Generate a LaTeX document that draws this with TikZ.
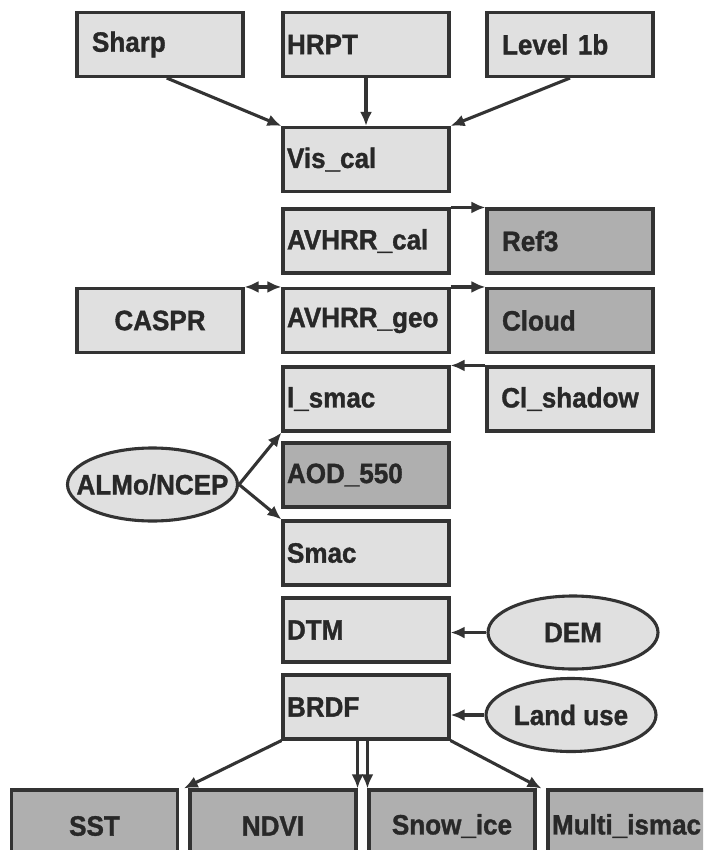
\documentclass[tikz,border=0pt]{standalone}
\usepackage{fontspec}
\setmainfont[FakeStretch=0.93,BoldFeatures={FakeBold=1.2}]{Liberation Sans}
\usetikzlibrary{arrows.meta,shapes.geometric,calc}
\definecolor{lightbox}{HTML}{E0E0E0}
\definecolor{darkbox}{HTML}{AFAFAF}
\definecolor{ink}{HTML}{333333}
\definecolor{txt}{HTML}{282828}
\tikzset{
  base/.style={draw=ink, line width=3.1pt, text=txt,
    font=\fontsize{28}{32}\selectfont\bfseries},
  lbl/.style={text=txt, font=\fontsize{28}{32}\selectfont\bfseries, inner sep=0pt},
  lbox/.style={base, rectangle, fill=lightbox, minimum height=64pt,
    inner xsep=4pt, inner ysep=0pt, text width=158pt, align=left},
  ibox/.style={lbox, inner xsep=15pt, text width=136pt},
  cbox/.style={lbox, align=center},
  dark/.style={fill=darkbox},
  oval/.style={base, ellipse, fill=lightbox, minimum width=170pt,
    minimum height=73pt, inner sep=0pt},
  arr/.style={draw=ink, line width=3.1pt, -{Latex[length=14pt,width=12pt]}},
  darr/.style={draw=ink, line width=3.1pt, {Latex[length=14pt,width=12pt]}-{Latex[length=14pt,width=12pt]}}
}
\begin{document}
\begin{tikzpicture}[x=1pt,y=-1pt]
\useasboundingbox (0,0) rectangle (703,850);
\clip (0,0) rectangle (703,850);
% top row
\node[ibox] (sharp) at (160,44.5) {Sharp};
\node[lbox] (hrpt) at (366,44.5) {HRPT};
\node[ibox] (lvl) at (570,44.5) {Level 1b};
\node[lbox] (vis) at (366,159.5) {\raisebox{-5pt}{Vis\_cal}};
% calibration rows
\node[lbox] (avcal) at (366,241) {AVHRR\_cal};
\node[ibox,dark] (ref) at (570,241) {Ref3};
\node[cbox] (caspr) at (160,320.5) {CASPR};
\node[lbox] (avgeo) at (366,320.5) {AVHRR\_geo};
\node[ibox,dark] (cloud) at (570,320.5) {Cloud};
\node[lbox] (ismac) at (366,399) {l\_smac};
\node[cbox] (shadow) at (570,399) {Cl\_shadow};
\node[lbox,dark] (aod) at (366,475) {AOD\_550};
\node[oval, label={[lbl]center:ALMo/NCEP}] (almo) at (152.5,484.5) {};
\node[lbox] (smac) at (366,553) {Smac};
\node[lbox] (dtm) at (366,630) {DTM};
\node[oval, label={[lbl]center:DEM}] (dem) at (573,632.5) {};
\node[lbox] (brdf) at (366,707) {BRDF};
\node[oval, label={[lbl]center:Land use}] (land) at (571,715) {};
% bottom row
\node[cbox,dark,minimum height=72pt] (sst) at (94.5,826) {SST};
\node[cbox,dark,minimum height=72pt] (ndvi) at (273,826) {NDVI};
\node[cbox,dark,minimum height=72pt] (snow) at (452,826) {Snow\_ice};
\node[lbox,dark,minimum height=72pt] (multi) at (631,826) {Multi\_ismac};
% connectors
\draw[arr] ($(sharp.south west)!0.54!(sharp.south east)$) -- (vis.north west);
\draw[arr] (hrpt.south) -- (vis.north);
\draw[arr] (lvl.south) -- (vis.north east);
\draw[arr] (avcal.north east) -- (ref.north west);
\draw[darr] (caspr.north east) -- (avgeo.north west);
\draw[arr] (avgeo.north east) -- (cloud.north west);
\draw[arr] (shadow.north west) -- (ismac.north east);
\draw[arr] (almo.east) -- (ismac.south west);
\draw[arr] (almo.east) -- (smac.north west);
\draw[arr] (dem.west) -- (dtm.east |- dem.west);
\draw[arr] (land.west) -- (brdf.east |- land.west);
\coordinate (g1) at ($(sst.north east)!0.5!(ndvi.north west)$);
\coordinate (g3) at ($(snow.north east)!0.5!(multi.north west)$);
\draw[arr] (brdf.south west) -- (g1);
\draw[arr] (brdf.south -| ndvi.north east) -- (ndvi.north east);
\draw[arr] (brdf.south -| snow.north west) -- (snow.north west);
\draw[arr] (brdf.south east) -- (g3);
\end{tikzpicture}
\end{document}
